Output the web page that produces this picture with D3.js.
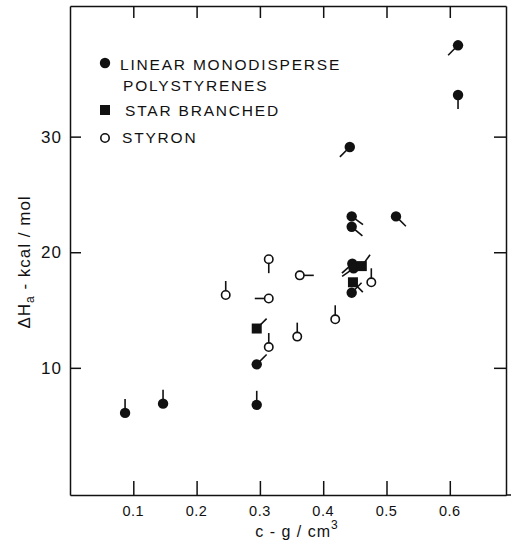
<!DOCTYPE html>
<html><head><meta charset="utf-8">
<script src="https://cdn.jsdelivr.net/npm/d3@7"></script>
<style>body{margin:0;background:#fff}svg{display:block}text{font-family:"Liberation Sans",Arial,sans-serif;fill:#111}</style>
</head><body>
<svg id="c" width="511" height="547"></svg>
<script>
// Data (tail angle in degrees: 0 = right, 90 = up)
const linearX   = [0.087, 0.147, 0.295, 0.295, 0.442, 0.445, 0.445, 0.515, 0.613, 0.613, 0.446, 0.448, 0.445];
const linearY   = [6.1,   6.9,   6.8,   10.3,  29.1,  23.1,  22.2,  23.1,  37.9,  33.6,  19.0,  18.6,  16.5];
const linearTail= [90,    90,    90,    45,    225,   -36,   -40,   -45,   225,   270,   222,   215,   45];
const starX     = [0.295, 0.461, 0.447];
const starY     = [13.4,  18.8,  17.4];
const starTail  = [45,    54,    -45];
const styronX   = [0.314, 0.363, 0.246, 0.314, 0.359, 0.314, 0.419, 0.476];
const styronY   = [19.4,  18.0,  16.3,  16.0,  12.7,  11.8,  14.2,  17.4];
const styronTail= [270,   0,     90,    180,   90,    90,    90,    90];
const xTicks = [0.1, 0.2, 0.3, 0.4, 0.5, 0.6];
const yTicks = [10, 20, 30];
const legendLabels = [["LINEAR MONODISPERSE","POLYSTYRENES"],["STAR BRANCHED"],["STYRON"]];

const svg = d3.select("#c");
const L=70, R=506, T=6, B=495;
const x = d3.scaleLinear().domain([0, (R-L)/633]).range([L, R]);
const y = d3.scaleLinear().domain([-1.0, 41.3]).range([B, T]);

const ax = (g)=>g.selectAll("path,line").attr("stroke","#111").attr("stroke-width",1.5);
svg.append("g").attr("transform",`translate(0,${B})`)
  .call(d3.axisBottom(x).tickValues(xTicks).tickSizeInner(-14).tickSizeOuter(0).tickFormat(""))
  .call(ax);
svg.append("g").attr("transform",`translate(0,${T})`)
  .call(d3.axisTop(x).tickValues(xTicks).tickSizeInner(-12).tickSizeOuter(0).tickFormat(""))
  .call(ax);
svg.append("g").attr("transform",`translate(${L},0)`)
  .call(d3.axisLeft(y).tickValues(yTicks).tickSizeInner(-11).tickSizeOuter(0).tickFormat(""))
  .call(ax);
svg.append("g").attr("transform",`translate(${R},0)`)
  .call(d3.axisRight(y).tickValues(yTicks).tickSizeInner(-12).tickSizeOuter(0).tickFormat(""))
  .call(ax);
svg.selectAll(".domain").attr("fill","none");
svg.append("line").attr("x1",R).attr("x2",511).attr("y1",B).attr("y2",B).attr("stroke","#111").attr("stroke-width",1.5);

// tick labels
svg.append("g").selectAll("text").data(xTicks).join("text")
  .attr("x",d=>x(d)).attr("y",B+21).attr("text-anchor","middle")
  .attr("font-size",14.5).attr("letter-spacing",0.5).text(d=>d.toFixed(1));
svg.append("g").selectAll("text").data(yTicks).join("text")
  .attr("x",L-8).attr("y",d=>y(d)+6).attr("text-anchor","end")
  .attr("font-size",17).attr("letter-spacing",1).text(d=>String(d));

// axis titles
const xt = svg.append("text").attr("x",297).attr("y",537).attr("text-anchor","middle").attr("font-size",16).attr("letter-spacing",1);
xt.append("tspan").text("c - g / cm");
xt.append("tspan").attr("dy",-8).attr("font-size",12).text("3");
const yt = svg.append("text").attr("transform","translate(30,262) rotate(-90)").attr("text-anchor","middle").attr("font-size",17).attr("letter-spacing",1);
yt.append("tspan").text("\u0394H");
yt.append("tspan").attr("dy",4).attr("font-size",12).text("a");
yt.append("tspan").attr("dy",-4).text(" - kcal / mol");

// marks
const TL = 14;
function tails(X,Y,A){
  svg.append("g").selectAll("line").data(X).join("line")
    .attr("x1",(d,i)=>x(d)).attr("y1",(d,i)=>y(Y[i]))
    .attr("x2",(d,i)=>x(d)+TL*Math.cos(A[i]*Math.PI/180))
    .attr("y2",(d,i)=>y(Y[i])-TL*Math.sin(A[i]*Math.PI/180))
    .attr("stroke","#111").attr("stroke-width",1.6);
}
tails(linearX,linearY,linearTail);
tails(starX,starY,starTail);
tails(styronX,styronY,styronTail);
svg.append("g").selectAll("circle").data(linearX).join("circle")
  .attr("cx",d=>x(d)).attr("cy",(d,i)=>y(linearY[i])).attr("r",5.2).attr("fill","#111");
svg.append("g").selectAll("rect").data(starX).join("rect")
  .attr("x",d=>x(d)-5).attr("y",(d,i)=>y(starY[i])-5).attr("width",10).attr("height",10).attr("fill","#111");
svg.append("g").selectAll("circle").data(styronX).join("circle")
  .attr("cx",d=>x(d)).attr("cy",(d,i)=>y(styronY[i])).attr("r",4.2).attr("fill","#fff").attr("stroke","#111").attr("stroke-width",1.6);

// legend
const lg = svg.append("g");
lg.append("circle").attr("cx",105).attr("cy",63).attr("r",5.2).attr("fill","#111");
lg.append("rect").attr("x",100).attr("y",105).attr("width",10).attr("height",10).attr("fill","#111");
lg.append("circle").attr("cx",105).attr("cy",138).attr("r",4.2).attr("fill","#fff").attr("stroke","#111").attr("stroke-width",1.6);
const rows = [[120,70,legendLabels[0][0]],[123,91,legendLabels[0][1]],[125,116,legendLabels[1][0]],[122,143,legendLabels[2][0]]];
lg.selectAll("text").data(rows).join("text").attr("x",d=>d[0]).attr("y",d=>d[1])
  .attr("font-size",15.5).attr("letter-spacing",1.8).text(d=>d[2]);
</script>
</body></html>
